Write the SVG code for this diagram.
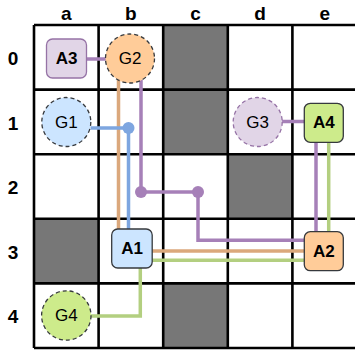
<svg xmlns="http://www.w3.org/2000/svg" width="355" height="352" viewBox="0 0 355 352">
<style>
.lbl{font-family:"Liberation Sans",Arial,sans-serif;font-size:19px;font-weight:bold;fill:#000;text-anchor:middle}
.nt{font-family:"Liberation Sans",Arial,sans-serif;font-size:17px;fill:#000;text-anchor:middle;dominant-baseline:central}
.b{font-weight:bold}
.grid{stroke:#000;stroke-width:2.6;fill:none}
.dark{fill:#777777}
.c{fill:none;stroke-width:3.5}
.pu{stroke:#a680b8}
.or{stroke:#dba87c}
.bl{stroke:#7ea6e0}
.gr{stroke:#b3cf80}
.rn{stroke:#36393d;stroke-width:1.3}
.gn{stroke:#36393d;stroke-width:1.3;stroke-dasharray:4 3}
</style>
<rect width="355" height="352" fill="#fff"/>
<g id="labels">
<text class="lbl" x="66.3" y="19.5">a</text>
<text class="lbl" x="130.9" y="19.5">b</text>
<text class="lbl" x="195.5" y="19.5">c</text>
<text class="lbl" x="260.1" y="19.5">d</text>
<text class="lbl" x="324.7" y="19.5">e</text>
<text class="lbl" x="13" y="65">0</text>
<text class="lbl" x="13" y="129.6">1</text>
<text class="lbl" x="13" y="194.2">2</text>
<text class="lbl" x="13" y="258.8">3</text>
<text class="lbl" x="13" y="323.4">4</text>
</g>
<g id="grid">
<rect class="dark" x="163.2" y="25" width="64.6" height="129.2"/>
<rect class="dark" x="34" y="218.8" width="64.6" height="64.6"/>
<rect class="dark" x="227.8" y="154.2" width="64.6" height="64.6"/>
<rect class="dark" x="163.2" y="283.4" width="64.6" height="64.6"/>
<path class="grid" d="M34,25V348M98.6,25V348M163.2,25V348M227.8,25V348M292.4,25V348M357,25V348M34,25H357M34,89.6H357M34,154.2H357M34,218.8H357M34,283.4H357M34,348H357"/>
</g>
<g id="connectors">
<path class="c pu" d="M86.5,59H106"/>
<path class="c or" d="M118.5,80V251H304"/>
<path class="c pu" d="M141,80V192H198V240.3H304"/>
<circle cx="141" cy="192" r="6" fill="#a680b8"/>
<circle cx="198" cy="192" r="6" fill="#a680b8"/>
<path class="c bl" d="M90.5,128H128.5V229"/>
<circle cx="128.5" cy="128" r="6" fill="#7ea6e0"/>
<path class="c gr" d="M91,316H140.3V260.3H304"/>
<path class="c pu" d="M282,121.5H304.3"/>
<path class="c pu" d="M316,142V232"/>
<path class="c gr" d="M328.7,142V232"/>
</g>
<g id="A3">
<rect x="46.5" y="39" width="40" height="39" rx="6" fill="#e1d5e7" stroke="#9673a6" stroke-width="1.3"/>
<text class="nt b" x="66.5" y="58.5">A3</text>
</g>
<g id="G2">
<circle class="gn" cx="130" cy="58.5" r="24.5" fill="#ffcc99"/>
<text class="nt" x="130" y="58.5">G2</text>
</g>
<g id="G1">
<circle class="gn" cx="66.3" cy="122" r="24.5" fill="#cce5ff"/>
<text class="nt" x="66.3" y="122">G1</text>
</g>
<g id="G3">
<circle cx="257.7" cy="122" r="24.5" fill="#e1d5e7" stroke="#9673a6" stroke-width="1.3" stroke-dasharray="4 3"/>
<text class="nt" x="257.7" y="122">G3</text>
</g>
<g id="A4">
<rect class="rn" x="304.3" y="103.3" width="39" height="39" rx="6" fill="#cdeb8b"/>
<text class="nt b" x="323.8" y="122.8">A4</text>
</g>
<g id="A1">
<rect class="rn" x="111.7" y="229" width="40.5" height="39" rx="6" fill="#cce5ff"/>
<text class="nt b" x="132" y="248.5">A1</text>
</g>
<g id="A2">
<rect class="rn" x="304.3" y="231.7" width="39" height="39" rx="6" fill="#ffcc99"/>
<text class="nt b" x="323.8" y="251.2">A2</text>
</g>
<g id="G4">
<circle class="gn" cx="66.3" cy="315.5" r="24.7" fill="#cdeb8b"/>
<text class="nt" x="66.3" y="315.5">G4</text>
</g>
</svg>
